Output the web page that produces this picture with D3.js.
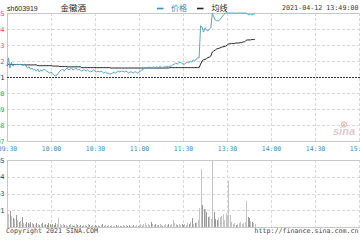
<!DOCTYPE html>
<html><head><meta charset="utf-8">
<script src="https://cdn.jsdelivr.net/npm/d3@7"></script>
<style>html,body{margin:0;padding:0;background:#fff;overflow:hidden}svg{display:block}</style>
</head><body><svg id="c" width="360" height="240"></svg>
<script>
const code = "sh603919";
const stockName = "金徽酒";
const dateText = "2021-04-12 13:49:00";
const legendNames = ["价格", "均线"];
const timeLabels = ["09:30","10:00","10:30","11:00","11:30","13:30","14:00","14:30","15:00"];
const timeIndex = [0,30,60,90,120,150,180,210,240];
const prevClose = 27.71;
const priceStep = 0.41;
const volMax = 2085;

const price = [
27.99,28.20,27.94,28.09,27.99,28.04,28.02,28.04,28.02,28.04,
28.02,28.02,28.04,27.99,27.94,27.97,27.91,27.94,27.89,27.91,
27.86,27.91,27.84,27.89,27.86,27.91,27.89,27.86,27.84,27.81,
27.84,27.79,27.76,27.74,27.76,27.81,27.86,27.89,27.91,27.86,
27.91,27.94,27.89,27.91,27.94,27.89,27.91,27.94,27.89,27.91,
27.89,27.86,27.89,27.89,27.86,27.89,27.86,27.84,27.86,27.89,
27.86,27.84,27.86,27.84,27.86,27.84,27.81,27.84,27.81,27.81,
27.79,27.79,27.81,27.84,27.81,27.84,27.86,27.84,27.86,27.86,
27.84,27.86,27.84,27.81,27.84,27.84,27.81,27.84,27.84,27.81,
27.84,27.86,27.89,27.91,27.94,27.94,27.94,27.97,27.94,27.94,
27.97,27.94,27.97,27.94,27.97,27.97,27.94,27.97,27.97,27.99,
27.97,27.99,27.99,28.02,28.04,28.07,28.04,28.07,28.09,28.07,
28.04,
28.04,28.07,28.09,28.07,28.12,28.09,28.15,28.12,28.17,
28.20,28.20,29.02,28.99,28.86,28.97,28.91,28.89,28.94,28.97,
29.35,29.25,29.17,29.15,29.15,29.17,29.22,29.27,29.32,29.35,
29.35,29.35,29.35,29.35,29.35,29.35,29.34,29.35,29.35,29.35,
29.35,29.35,29.35,29.35,29.32,29.30,29.32,29.30,29.32,29.32
];
const avgPrice = [
27.99,28.04,28.03,28.03,28.03,28.03,28.03,28.03,28.03,28.03,
28.03,28.02,28.02,28.02,28.02,28.02,28.02,28.02,28.02,28.02,
28.02,28.00,28.00,28.00,28.00,28.00,28.00,28.00,28.00,28.00,
28.00,27.99,27.99,27.99,27.99,27.99,27.98,27.98,27.98,27.98,
27.98,27.97,27.97,27.97,27.97,27.97,27.97,27.97,27.97,27.97,
27.97,27.95,27.95,27.95,27.95,27.95,27.95,27.95,27.95,27.95,
27.95,27.95,27.95,27.95,27.95,27.95,27.95,27.95,27.95,27.95,
27.95,27.94,27.94,27.94,27.94,27.94,27.94,27.94,27.94,27.94,
27.94,27.94,27.94,27.94,27.94,27.94,27.94,27.94,27.94,27.94,
27.94,27.94,27.94,27.94,27.94,27.94,27.94,27.94,27.94,27.94,
27.94,27.94,27.94,27.94,27.94,27.94,27.94,27.94,27.94,27.94,
27.94,27.95,27.95,27.95,27.95,27.95,27.95,27.95,27.95,27.95,
27.95,27.95,27.95,27.95,27.95,27.95,27.95,27.95,27.95,27.95,
27.95,27.95,28.04,28.12,28.15,28.16,28.18,28.21,28.22,28.25,
28.35,28.38,28.40,28.43,28.44,28.45,28.47,28.48,28.49,28.50,
28.52,28.56,28.56,28.57,28.57,28.57,28.58,28.58,28.58,28.59,
28.59,28.61,28.61,28.65,28.66,28.66,28.66,28.67,28.67,28.67
];
const volume = [
467,404,498,342,280,249,373,218,156,187,
311,124,93,156,124,93,156,124,93,62,
124,93,62,93,124,62,93,62,124,93,
62,93,62,124,93,280,93,62,93,62,
62,31,62,93,62,31,62,93,62,31,
62,31,62,62,31,93,62,31,62,31,
62,31,62,31,62,93,31,62,31,62,
31,62,31,31,62,31,62,31,31,62,
31,62,31,62,31,31,62,31,62,31,
62,93,62,93,124,62,93,62,156,93,
62,93,62,62,93,62,31,62,93,62,
93,62,93,218,124,93,62,93,62,93,
62,
93,62,124,93,156,280,93,124,156,
218,590,1800,684,560,560,467,311,342,249,
2085,467,249,218,280,311,342,404,218,435,
373,1430,373,156,93,124,62,93,124,156,
93,124,156,809,311,280,187,156,124,93
];

const svg = d3.select("#c");
const mono = "'DejaVu Sans Mono', monospace";
const x = d3.scaleLinear().domain([0,240]).range([7,359]);
const y = d3.scaleLinear().domain([prevClose-4*priceStep, prevClose+4*priceStep]).range([141,13]);
const yv = d3.scaleLinear().domain([0, volMax]).range([227,160]);
const priceTicks = d3.range(9).map(i => prevClose + (i-4)*priceStep);
const volTicks = [1,2,3,4].map(i => volMax*i/4);
const gridColor = "#d8d8d8";

// grids - price panel
const g = svg.append("g");
g.selectAll(".hg").data(priceTicks.filter(v => Math.abs(v-prevClose)>1e-6 && v>y.domain()[0]+1e-6 && v<y.domain()[1]-1e-6))
  .join("line").attr("x1",7).attr("x2",360).attr("y1",d=>Math.round(y(d))+0.5).attr("y2",d=>Math.round(y(d))+0.5)
  .attr("stroke",gridColor).attr("stroke-dasharray","3,2");
g.selectAll(".vg").data(timeIndex.slice(1))
  .join("line").attr("x1",d=>Math.round(x(d))+0.5).attr("x2",d=>Math.round(x(d))+0.5).attr("y1",13).attr("y2",141)
  .attr("stroke",gridColor).attr("stroke-dasharray","3,2");
// grids - volume panel
g.selectAll(".hv").data(volTicks.slice(0,3))
  .join("line").attr("x1",7).attr("x2",360).attr("y1",d=>Math.round(yv(d))+0.5).attr("y2",d=>Math.round(yv(d))+0.5)
  .attr("stroke",gridColor).attr("stroke-dasharray","3,2");
g.selectAll(".vv").data(timeIndex.slice(1))
  .join("line").attr("x1",d=>Math.round(x(d))+0.5).attr("x2",d=>Math.round(x(d))+0.5).attr("y1",160).attr("y2",227)
  .attr("stroke",gridColor).attr("stroke-dasharray","3,2");

// borders
const bc = "#c8c8c8";
[[7.5,13,7.5,141],[7,13.5,360,13.5],[7,141.5,360,141.5],[7.5,160,7.5,227],[7,160.5,360,160.5],[7,227.5,360,227.5]]
  .forEach(l => svg.append("line").attr("x1",l[0]).attr("y1",l[1]).attr("x2",l[2]).attr("y2",l[3]).attr("stroke",bc));

// prev close
svg.append("line").attr("x1",7).attr("x2",360).attr("y1",Math.round(y(prevClose))+0.5).attr("y2",Math.round(y(prevClose))+0.5)
  .attr("stroke","#333").attr("stroke-dasharray","2,1");

// sina logo
const logo = svg.append("g").attr("opacity",0.55);
logo.append("text").attr("x",333).attr("y",135).attr("font-family","'Liberation Sans',Arial,sans-serif")
  .attr("font-size",11).attr("font-style","italic").attr("font-weight","bold").attr("fill","#c9a0a0").text("sina");
logo.append("circle").attr("cx",344).attr("cy",124.5).attr("r",2.6).attr("fill","none").attr("stroke","#d06060").attr("stroke-width",1);
logo.append("circle").attr("cx",344).attr("cy",124.5).attr("r",0.9).attr("fill","#d06060");

// volume bars
svg.append("g").selectAll("rect").data(volume).join("rect")
  .attr("x",(d,i)=>Math.round(x(i)))
  .attr("width",1)
  .attr("y",d=>yv(d))
  .attr("height",d=>227-yv(d))
  .attr("fill",(d,i)=> (i===0 || price[i]>=price[i-1]) ? "#c4c4c4" : "#9a9a9a");

// lines
const line = d3.line().x((d,i)=>x(i)).y(d=>y(d));
svg.append("path").datum(avgPrice).attr("d",line).attr("fill","none").attr("stroke","#222").attr("stroke-width",1);
svg.append("path").datum(price).attr("d",line).attr("fill","none").attr("stroke","#5aa3c8").attr("stroke-width",1);

// axes
const pa = svg.append("g").attr("transform","translate(7,0)")
  .call(d3.axisLeft(y).tickValues(priceTicks).tickSize(0).tickPadding(2.5).tickFormat(d=>d.toFixed(2)));
pa.select(".domain").remove();
pa.selectAll("text").attr("font-family",mono).attr("font-size",6.5)
  .attr("fill",d=> Math.abs(d-prevClose)<1e-6 ? "#222" : (d>prevClose ? "#d94a4a" : "#3a9a3a"));
const va = svg.append("g").attr("transform","translate(7,0)")
  .call(d3.axisLeft(yv).tickValues(volTicks).tickSize(0).tickPadding(2.5).tickFormat(d=>Math.round(d)));
va.select(".domain").remove();
va.selectAll("text").attr("font-family",mono).attr("font-size",6.5).attr("fill","#333");
const ta = svg.append("g").attr("transform","translate(0,141)")
  .call(d3.axisBottom(x).tickValues(timeIndex).tickSize(0).tickPadding(5).tickFormat((d,i)=>timeLabels[i]));
ta.select(".domain").remove();
ta.selectAll("text").attr("font-family",mono).attr("font-size",6.5).attr("fill","#3d8db5");

// header
svg.append("text").attr("x",7).attr("y",10.5).attr("font-family","'Liberation Sans',Arial,sans-serif").attr("font-size",7).attr("fill","#222").text(code);
svg.append("text").attr("x",60.5).attr("y",11).attr("font-family","'Noto Sans CJK SC',sans-serif").attr("font-size",8.5).attr("fill","#222").text(stockName);
svg.append("line").attr("x1",157).attr("x2",163.5).attr("y1",8.5).attr("y2",8.5).attr("stroke","#3d8db5").attr("stroke-width",1.6);
svg.append("text").attr("x",171).attr("y",11).attr("font-family","'Noto Sans CJK SC',sans-serif").attr("font-size",8).attr("fill","#3d8db5").text(legendNames[0]);
svg.append("line").attr("x1",197).attr("x2",203.5).attr("y1",8.5).attr("y2",8.5).attr("stroke","#222").attr("stroke-width",1.6);
svg.append("text").attr("x",211.5).attr("y",11).attr("font-family","'Noto Sans CJK SC',sans-serif").attr("font-size",8).attr("fill","#222").text(legendNames[1]);
svg.append("text").attr("x",358.5).attr("y",10).attr("text-anchor","end").attr("font-family",mono).attr("font-size",6.7).attr("fill","#333").text(dateText);

// footer
svg.append("text").attr("x",6).attr("y",232.5).attr("font-family",mono).attr("font-size",6.65).attr("fill","#444").text("Copyright 2021 SINA.COM");
svg.append("text").attr("x",358.5).attr("y",232.5).attr("text-anchor","end").attr("font-family",mono).attr("font-size",6.65).attr("fill","#444").text("http://finance.sina.com.cn");
</script></body></html>
